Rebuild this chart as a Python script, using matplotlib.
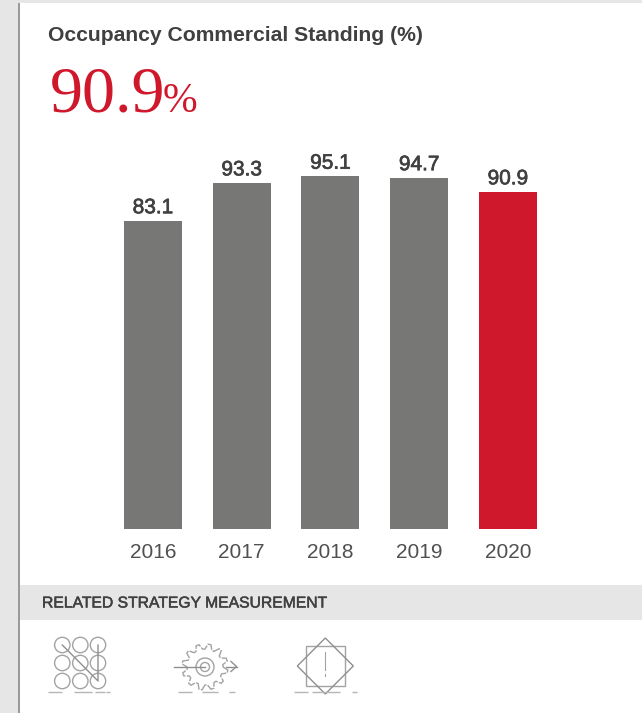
import numpy as np
import matplotlib
matplotlib.use("Agg")
import matplotlib.pyplot as plt
import matplotlib.patheffects as pe
from matplotlib.patches import Rectangle, Circle, Polygon

years = ["2016", "2017", "2018", "2019", "2020"]
occupancy = [83.1, 93.3, 95.1, 94.7, 90.9]
bar_colors = ["#777776", "#777776", "#777776", "#777776", "#cf182c"]

W, H = 642, 713
TEXT = "#404040"
ICON = "#a3a3a3"

plt.rcParams["font.family"] = ["Liberation Sans", "DejaVu Sans"]
fig = plt.figure(figsize=(W / 100, H / 100), dpi=100)

# page background, in pixel coordinates
bg = fig.add_axes([0, 0, 1, 1])
bg.set_xlim(0, W)
bg.set_ylim(H, 0)
bg.axis("off")
bg.add_patch(Rectangle((0, 0), W, 3, color="#e6e6e6", lw=0))
bg.add_patch(Rectangle((0, 0), 18, H, color="#e6e6e6", lw=0))
bg.add_patch(Rectangle((18, 3), 1.6, H, color="#9a9a9a", lw=0))
bg.add_patch(Rectangle((19.6, 585), W, 35, color="#e6e6e6", lw=0))

# headings
bg.text(48, 35.5, "Occupancy Commercial Standing (%)", fontsize=15.2, fontweight="bold",
        color=TEXT, va="center", ha="left")
bg.text(49.5, 112, "90.9", fontsize=47.5, family="Liberation Serif", color="#cf182c",
        va="baseline", ha="left")
bg.text(163, 112, "%", fontsize=30, family="Liberation Serif", color="#cf182c",
        va="baseline", ha="left")
section = bg.text(42, 603, "RELATED STRATEGY MEASUREMENT", fontsize=11.3, color=TEXT,
                  va="center", ha="left")
section.set_path_effects([pe.withStroke(linewidth=0.35, foreground=TEXT)])

# bars
scale = 3.71
ax = fig.add_axes([108.6 / W, (H - 529) / H, 443.75 / W, 400 / H])
x = np.arange(len(years))
ax.bar(x, occupancy, width=0.654, color=bar_colors)
ax.set_xlim(-0.5, 4.5)
ax.set_ylim(0, 400 / scale)
ax.patch.set_alpha(0)
for s in ax.spines.values():
    s.set_visible(False)
ax.set_yticks([])
ax.set_xticks(x)
ax.set_xticklabels(years, fontsize=15, color="#505050")
ax.tick_params(axis="x", length=0, pad=10)
for xi, v in zip(x, occupancy):
    label = ax.annotate(f"{v:.1f}", (xi, v), xytext=(0, 2.5), textcoords="offset points",
                        ha="center", va="bottom", fontsize=15, color=TEXT)
    label.set_path_effects([pe.withStroke(linewidth=0.5, foreground=TEXT)])


def base_line(segments, y):
    for x0, x1 in segments:
        bg.plot([x0, x1], [y, y], color="#b5b5b5", lw=1, solid_capstyle="butt")


# icon 1: grid of circles
for cy in [645, 663, 681]:
    for cx in [62.3, 80.3, 98]:
        bg.add_patch(Circle((cx, cy), 7.7, fill=False, ec=ICON, lw=1))
bg.plot([62.3, 98, 98], [645, 681, 645], color="#8f8f8f", lw=1)
base_line([(47.5, 62), (74, 92), (95, 105), (106, 110)], 691.5)

# icon 2: gear with an arrow through it
n_teeth = 12
angles = np.linspace(0, 2 * np.pi, n_teeth * 4, endpoint=False)
radii = np.tile([18, 23, 23, 18], n_teeth)
gear = np.column_stack([205 + radii * np.cos(angles), 667 + radii * np.sin(angles)])
bg.add_patch(Polygon(gear, closed=True, fill=False, ec=ICON, lw=1, ls=(0, (6, 1))))
bg.add_patch(Circle((205, 667), 9, fill=False, ec=ICON, lw=1))
bg.add_patch(Circle((205, 667), 4.5, fill=False, ec=ICON, lw=1))
bg.plot([174, 205], [666.5, 666.5], color="#8f8f8f", lw=1)
bg.plot([226, 236.5], [666.5, 666.5], color="#8f8f8f", lw=1)
bg.plot([231, 236.5, 231], [661.5, 666.5, 671.5], color="#8f8f8f", lw=1)
base_line([(178, 192), (202, 218), (229, 235)], 692)

# icon 3: square and diamond with an exclamation mark
bg.add_patch(Rectangle((305.7, 646), 39.6, 40, fill=False, ec=ICON, lw=1))
bg.add_patch(Polygon([(325.3, 638), (353.3, 666), (325.3, 694), (297.3, 666)], closed=True,
                     fill=False, ec="#8f8f8f", lw=1))
bg.plot([325.3, 325.3], [651.5, 669.5], color=ICON, lw=0.8)
bg.plot([325.3, 325.3], [674.3, 675.5], color=ICON, lw=0.8)
base_line([(294, 308), (312, 340), (352, 357)], 691.5)

fig.savefig("out.png", dpi=100, facecolor="white")
